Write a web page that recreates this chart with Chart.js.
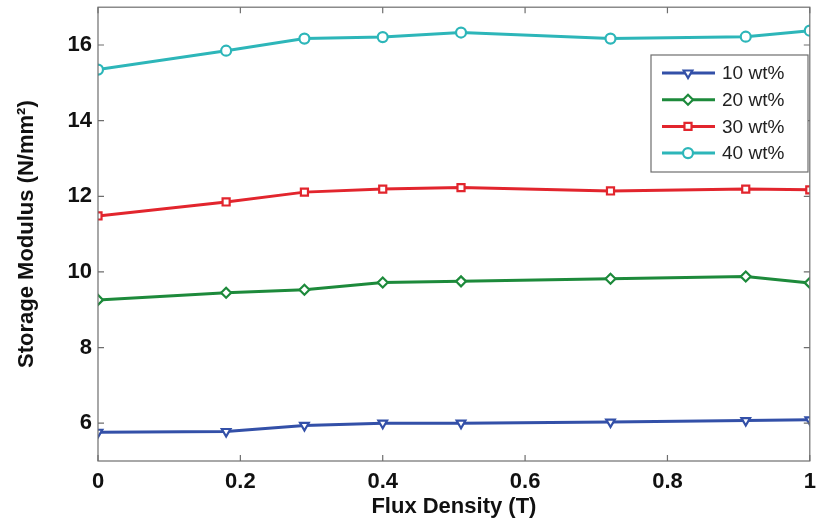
<!DOCTYPE html>
<html>
<head>
<meta charset="utf-8">
<script src="https://cdn.jsdelivr.net/npm/chart.js@4"></script>
<style>
  html, body { margin: 0; padding: 0; background: #fff; }
  #box { width: 817px; height: 529px; }
</style>
</head>
<body>
<div id="box"><canvas id="grafico" width="817" height="529"></canvas></div>
<script>
// datos
const flujo = [0, 0.18, 0.29, 0.40, 0.51, 0.72, 0.91, 1.0];
const serie10 = [5.76, 5.78, 5.94, 6.00, 6.00, 6.03, 6.07, 6.09];
const serie20 = [9.26, 9.45, 9.53, 9.72, 9.75, 9.82, 9.88, 9.71];
const serie30 = [11.48, 11.85, 12.11, 12.19, 12.23, 12.14, 12.19, 12.17];
const serie40 = [15.35, 15.85, 16.17, 16.21, 16.33, 16.17, 16.22, 16.38];
const etiquetas = ['10 wt%', '20 wt%', '30 wt%', '40 wt%'];
const ticksX = [0, 0.2, 0.4, 0.6, 0.8, 1];
const ticksY = [6, 8, 10, 12, 14, 16];

const colores = ['#3350a8', '#1d8a3b', '#e2252d', '#2db6b9'];
const estilos = ['triangle', 'rectRot', 'rect', 'circle'];
const rotaciones = [180, 0, 0, 0];
const fuente = '"Liberation Sans", Arial, sans-serif';

function puntos(valores) {
    return valores.map((v, i) => ({ x: flujo[i], y: v }));
}

const series = [serie10, serie20, serie30, serie40];
const datasets = series.map((s, i) => ({
    label: etiquetas[i],
    data: puntos(s),
    borderColor: colores[i],
    backgroundColor: colores[i],
    borderWidth: 3,
    pointStyle: estilos[i],
    pointRotation: rotaciones[i],
    pointRadius: 5,
    pointBorderWidth: 2.2,
    pointBackgroundColor: '#ffffff',
    pointBorderColor: colores[i],
    fill: false,
    tension: 0
}));

// caja y marcas hacia dentro, estilo matlab
const marcoPlugin = {
    id: 'marco',
    afterDraw(chart) {
        const { ctx, chartArea: a, scales } = chart;
        ctx.save();
        ctx.strokeStyle = '#6e6e6e';
        ctx.lineWidth = 1.2;
        ctx.strokeRect(a.left, a.top, a.right - a.left, a.bottom - a.top);
        const largo = 6;
        ticksX.forEach(t => {
            const x = scales.x.getPixelForValue(t);
            ctx.beginPath();
            ctx.moveTo(x, a.bottom); ctx.lineTo(x, a.bottom - largo);
            ctx.moveTo(x, a.top); ctx.lineTo(x, a.top + largo);
            ctx.stroke();
        });
        ticksY.forEach(t => {
            const y = scales.y.getPixelForValue(t);
            ctx.beginPath();
            ctx.moveTo(a.left, y); ctx.lineTo(a.left + largo, y);
            ctx.moveTo(a.right, y); ctx.lineTo(a.right - largo, y);
            ctx.stroke();
        });

        // leyenda
        const lx = 651, ly = 55, lw = 157, lh = 117;
        ctx.fillStyle = '#ffffff';
        ctx.fillRect(lx, ly, lw, lh);
        ctx.strokeStyle = '#6e6e6e';
        ctx.lineWidth = 1.2;
        ctx.strokeRect(lx, ly, lw, lh);
        ctx.font = '19px ' + fuente;
        ctx.textBaseline = 'middle';
        chart.data.datasets.forEach((d, i) => {
            const y = ly + 18 + i * 26.7;
            ctx.strokeStyle = d.borderColor;
            ctx.lineWidth = 3;
            ctx.beginPath();
            ctx.moveTo(lx + 11, y); ctx.lineTo(lx + 64, y);
            ctx.stroke();
            ctx.fillStyle = '#ffffff';
            ctx.strokeStyle = d.borderColor;
            ctx.lineWidth = 2.2;
            Chart.helpers.drawPoint(ctx, {
                pointStyle: d.pointStyle, rotation: d.pointRotation,
                radius: 5, borderWidth: 2.2
            }, lx + 37, y);
            ctx.fillStyle = '#222';
            ctx.fillText(d.label, lx + 71, y + 1);
        });
        ctx.restore();
    }
};

const ctx = document.getElementById('grafico').getContext('2d');
new Chart(ctx, {
    type: 'line',
    data: { datasets: datasets },
    options: {
        responsive: false,
        animation: false,
        layout: { padding: { top: 5, right: 6, left: 0, bottom: 0 } },
        plugins: { legend: { display: false }, tooltip: { enabled: false } },
        scales: {
            x: {
                type: 'linear',
                min: 0,
                max: 1,
                afterFit: s => { s.height = 68; s.paddingLeft = 0; s.paddingRight = 0; },
                afterBuildTicks: s => { s.ticks = ticksX.map(v => ({ value: v })); },
                grid: { display: false, drawTicks: false },
                border: { display: false },
                ticks: {
                    padding: 8,
                    color: '#111',
                    font: { family: fuente, size: 22, weight: 'bold' },
                    callback: v => String(v)
                },
                title: {
                    display: true,
                    text: 'Flux Density (T)',
                    color: '#111',
                    padding: { top: 0, bottom: 9 },
                    font: { family: fuente, size: 22, weight: 'bold' }
                }
            },
            y: {
                min: 5,
                max: 17,
                afterFit: s => { s.width = 98; s.paddingTop = 0; s.paddingBottom = 0; },
                afterBuildTicks: s => { s.ticks = ticksY.map(v => ({ value: v })); },
                grid: { display: false, drawTicks: false },
                border: { display: false },
                ticks: {
                    padding: 6,
                    color: '#111',
                    font: { family: fuente, size: 22, weight: 'bold' }
                },
                title: {
                    display: true,
                    text: 'Storage Modulus (N/mm²)',
                    color: '#111',
                    padding: { top: 14, bottom: 0 },
                    font: { family: fuente, size: 22, weight: 'bold' }
                }
            }
        }
    },
    plugins: [marcoPlugin]
});
</script>
</body>
</html>
